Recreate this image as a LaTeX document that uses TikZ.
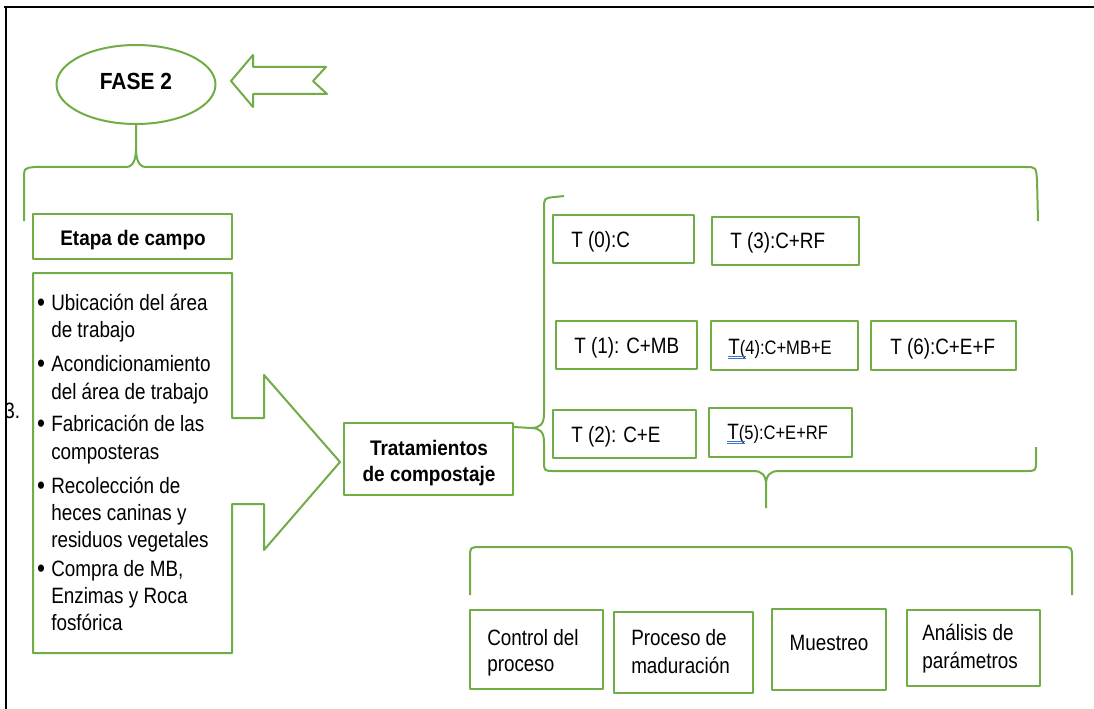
\documentclass[tikz,border=0pt]{standalone}
\usepackage{fontspec}
\setmainfont{Liberation Sans}[FakeStretch=0.85]
\newfontfamily\boldf{Liberation Sans}[FakeStretch=0.9]
\usetikzlibrary{shapes.geometric,fit}
\definecolor{gr}{RGB}{112,173,71}
\definecolor{ulc}{RGB}{68,114,196}
\begin{document}
\begin{tikzpicture}[x=0.75pt,y=-0.75pt,
  gline/.style={draw=gr, line width=1.5pt, line join=round},
  gbox/.style={gline, inner sep=0pt},
  txt/.style={font=\fontsize{16.65}{20}\selectfont, inner sep=0pt},
  btxt/.style={font=\boldf\bfseries\fontsize{15.8}{19.5}\selectfont, inner sep=0pt},
  dottxt/.style={font=\fontsize{20}{20}\selectfont, inner sep=0pt},
  ulline/.style={draw=ulc, line width=0.6pt}
  ]
\useasboundingbox (0,0) rectangle (1094,709);
\fill[white] (0,0) rectangle (1094,709);

% black frame (top and left)
\draw[line width=2.2pt] (4,7) -- (1094,7);
\draw[line width=1.8pt] (6,7) -- (6,709);

% FASE 2 ellipse
\node[gline, ellipse, minimum width=119.25pt, minimum height=59.25pt, inner sep=0pt] (fase) at (136,84.5) {};
\node[font=\boldf\bfseries\fontsize{17.5}{20}\selectfont, inner sep=0pt, anchor=base]
  (fasel) at (136,90) {FASE 2};

% left-pointing block arrow
\draw[gline] (231,81) -- (253,55) -- (253,67) -- (326,67) -- (313,81) -- (327,94)
  -- (253,94) -- (253,107) -- cycle;

% top brace
\draw[gline] (24,221) -- (24,180) .. controls (24,168) .. (35,167) -- (126,167)
  .. controls (133,167) and (136,160) .. (136,148) -- (fase.south);
\draw[gline] (136,148) .. controls (136,160) and (139,167) .. (146,167) -- (1025,167)
  .. controls (1036,167) .. (1037,180) -- (1038,221);

% Etapa de campo
\node[gbox, fit={(33,214) (232,259)}] (etapa) {};
\node[btxt, anchor=base] (etapal) at (133,245) {Etapa de campo};

% list box with right arrow
\draw[gline] (33,273) -- (232,273) -- (232,418) -- (264,418) -- (264,375) -- (340,462)
  -- (264,550) -- (264,504) -- (232,504) -- (232,653) -- (33,653) -- cycle;
\coordinate (listtip) at (340,462);

% bullets
\foreach \n/\y in {1/311,2/372,3/432,4/494,5/577}
  \node[dottxt, anchor=base] (dot\n) at (41,\y) {•};
\node[txt, anchor=base west] (l1) at (51,310) {Ubicación del área};
\node[txt, anchor=base west] (l2) at (51,337) {de trabajo};
\node[txt, anchor=base west] (l3) at (51,371) {Acondicionamiento};
\node[txt, anchor=base west] (l4) at (51,399) {del área de trabajo};
\node[txt, anchor=base west] (l5) at (51,431) {Fabricación de las};
\node[txt, anchor=base west] (l6) at (51,459) {composteras};
\node[txt, anchor=base west] (l7) at (51,493) {Recolección de};
\node[txt, anchor=base west] (l8) at (51,520) {heces caninas y};
\node[txt, anchor=base west] (l9) at (51,547) {residuos vegetales};
\node[txt, anchor=base west] (l10) at (51,576) {Compra de MB,};
\node[txt, anchor=base west] (l11) at (51,603) {Enzimas y Roca};
\node[txt, anchor=base west] (l12) at (51,630) {fosfórica};

% stray "3."
\node[txt, anchor=base west] (three) at (4,418) {3.};
\draw[line width=1.8pt] (6,380) -- (6,440);

% Tratamientos
\node[gbox, fit={(344,423) (513,495)}] (trat) {};
\node[btxt, anchor=base] (trat1) at (429,455) {Tratamientos};
\node[btxt, anchor=base] (trat2) at (429,481) {de compostaje};

% T boxes
\node[gbox, fit={(553,215) (694,263)}] (t0) {};
\node[gbox, fit={(712,217) (859,265)}] (t3) {};
\node[gbox, fit={(556,321) (697,369)}] (t1) {};
\node[gbox, fit={(711,321) (858,370)}] (t4) {};
\node[gbox, fit={(871,321) (1016,370)}] (t6) {};
\node[gbox, fit={(553,410) (696,458)}] (t2) {};
\node[gbox, fit={(709,408) (852,457)}] (t5) {};

\node[txt, anchor=base west] (t0l) at (571,247) {T (0):C};
\node[txt, anchor=base west] (t3l) at (730,248) {T (3):C+RF};
\node[txt, anchor=base west] (t1l) at (574,353) {T (1): C+MB};
\node[txt, anchor=base west] (t4l) at (728,354) {T{\fontsize{14.6}{16}\selectfont(4):C+MB+E}};
\node[txt, anchor=base west] (t6l) at (890,354) {T (6):C+E+F};
\node[txt, anchor=base west] (t2l) at (571,442) {T (2): C+E};
\node[txt, anchor=base west] (t5l) at (727,439) {T{\fontsize{14.6}{16}\selectfont(5):C+E+RF}};
\draw[ulline] ([shift={(0,2)}]t4l.base west) -- ++(18,0);
\draw[ulline] ([shift={(0,4.5)}]t4l.base west) -- ++(18,0);
\draw[ulline] ([shift={(0,2)}]t5l.base west) -- ++(18,0);
\draw[ulline] ([shift={(0,4.5)}]t5l.base west) -- ++(18,0);

% brace for T boxes
\coordinate (tcusp) at (531,428);
\draw[gline] ([shift={(0,5)}]trat.north east) -- (tcusp)
  .. controls (540,428) and (544,424) .. (544,414) -- (544,209)
  .. controls (544,198) .. (555,197) -- (564,196);
\draw[gline] (tcusp) .. controls (540,428) and (544,432) .. (544,442) -- (544,461)
  .. controls (544,471) .. (554,471) -- (753,471)
  .. controls (762,471) and (766,475) .. (766,485) -- (766,508);
\coordinate (tstem) at (766,508);
\draw[gline] (766,485) .. controls (766,475) and (770,471) .. (779,471) -- (1026,471)
  .. controls (1036,471) .. (1036,461) -- (1036,447);

% bottom brace
\draw[gline] (470,595) -- (470,558) .. controls (470,547) .. (481,547) -- (1061,547)
  .. controls (1072,547) .. (1072,558) -- (1072,595);

% bottom boxes
\node[gbox, fit={(470,610) (603,689)}] (b1) {};
\node[gbox, fit={(614,612) (753,693)}] (b2) {};
\node[gbox, fit={(772,609) (886,690)}] (b3) {};
\node[gbox, fit={(907,610) (1040,686)}] (b4) {};
\node[txt, anchor=base west] (b1a) at (487,645) {Control del};
\node[txt, anchor=base west] (b1b) at (487,671) {proceso};
\node[txt, anchor=base west] (b2a) at (631,645) {Proceso de};
\node[txt, anchor=base west] (b2b) at (631,673) {maduración};
\node[txt, anchor=base] (b3a) at (829,650) {Muestreo};
\node[txt, anchor=base west] (b4a) at (922,640) {Análisis de};
\node[txt, anchor=base west] (b4b) at (922,668) {parámetros};
\end{tikzpicture}
\end{document}
